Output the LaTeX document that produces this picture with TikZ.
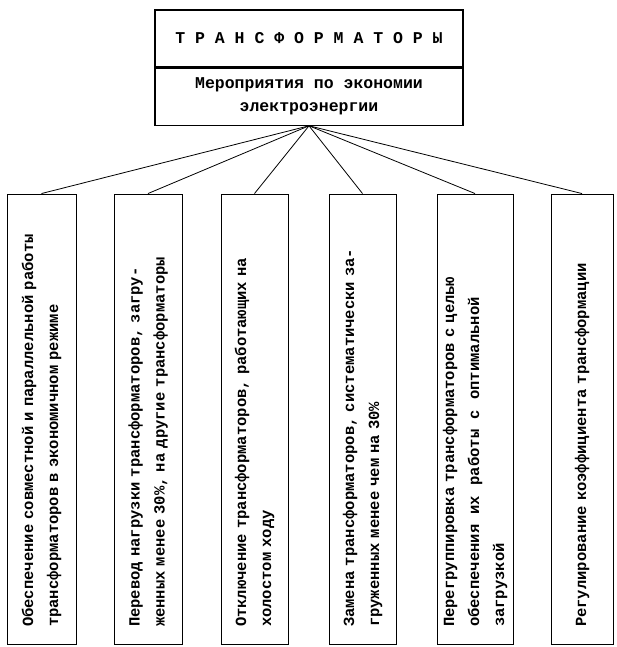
\documentclass[tikz,border=0pt]{standalone}
\usepackage{fontspec}
\setmonofont{Liberation Mono}
\usetikzlibrary{positioning}
\tikzset{
    head/.style={draw,line width=1.2pt,minimum width=308pt,minimum height=57pt,
        inner sep=0pt,align=center,font=\ttfamily\bfseries\fontsize{16.5}{23}\selectfont},
    leaf/.style={draw,line width=0.9pt,rotate=90,minimum width=450pt,
        text width=416pt,inner xsep=17pt,inner ysep=0pt,align=left,
        font=\ttfamily\bfseries\fontsize{15.5}{25}\selectfont},
    link/.style={line width=0.8pt}
}
\begin{document}
\begin{tikzpicture}[x=1pt,y=1pt]
		\useasboundingbox (0,0) rectangle (616,647);

		\node[head] (title) at (309,608.5) {Т Р А Н С Ф О Р М А Т О Р Ы};
		\node[head,below=0pt of title] (sub) {Мероприятия по экономии\\электроэнергии};

		\node[leaf,minimum height=69pt] (m1) at (41.5,228)
			{Обеспечение совместной и параллельной работы\\трансформаторов в экономичном режиме};
		\node[leaf,minimum height=68pt] (m2) at (148,228)
			{Перевод нагрузки трансформаторов, загру-\\женных менее 30\%, на другие трансформаторы};
		\node[leaf,minimum height=67pt] (m3) at (254.5,228)
			{Отключение трансформаторов, работающих на\\холостом ходу};
		\node[leaf,minimum height=67pt] (m4) at (362.5,228)
			{Замена трансформаторов, систематически за-\\груженных менее чем на 30\%};
		\node[leaf,minimum height=76pt] (m5) at (475,228)
			{Перегруппировка трансформаторов с целью\\обеспечения~~их~~работы~~с~~оптимальной\\загрузкой};
		\node[leaf,minimum height=62pt] (m6) at (582,228)
			{Регулирование коэффициента трансформации};

		\draw[link] (sub.south) -- (m1.east);
		\draw[link] (sub.south) -- (m2.east);
		\draw[link] (sub.south) -- (m3.east);
		\draw[link] (sub.south) -- (m4.east);
		\draw[link] (sub.south) -- (m5.east);
		\draw[link] (sub.south) -- (m6.east);
\end{tikzpicture}
\end{document}
